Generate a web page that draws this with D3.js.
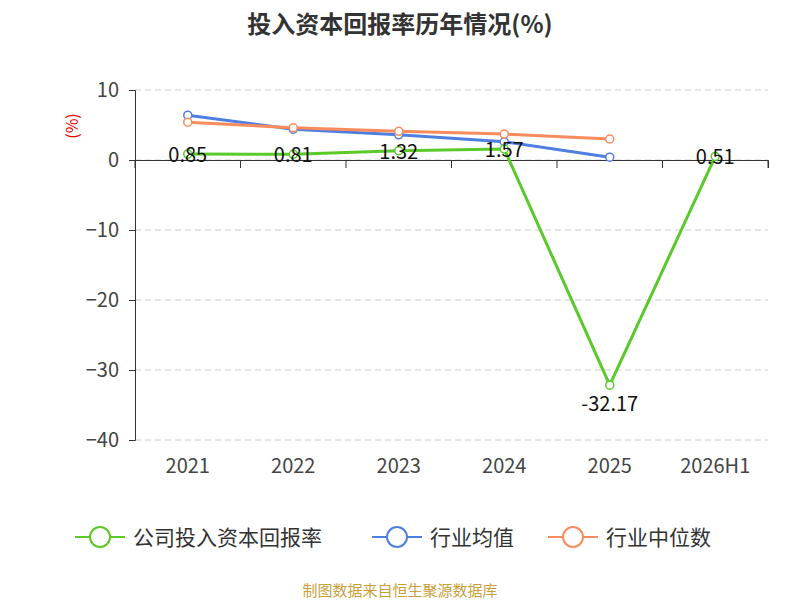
<!DOCTYPE html>
<html>
<head>
<meta charset="utf-8">
<style>
  body { margin: 0; background: #fff; }
  text { font-family: "Noto Sans CJK SC", "Noto Sans", sans-serif; }
</style>
</head>
<body>
<svg width="800" height="600"></svg>
<script src="https://d3js.org/d3.v7.min.js"></script>
<script>
var years = ["2021", "2022", "2023", "2024", "2025", "2026H1"];
var company = [0.85, 0.81, 1.32, 1.57, -32.17, 0.51];
var industryMean = [6.4, 4.4, 3.6, 2.6, 0.4];
var industryMedian = [5.4, 4.6, 4.1, 3.7, 3.0];
var yTicks = [10, 0, -10, -20, -30, -40];

var svg = d3.select("svg");
var plotLeft = 135, plotRight = 768, plotTop = 90, plotBottom = 440;

var x = d3.scaleBand().domain(years).range([plotLeft, plotRight]);
var y = d3.scaleLinear().domain([-40, 10]).range([plotBottom, plotTop]);

svg.append("text").attr("x", 400).attr("y", 33).attr("text-anchor", "middle")
  .attr("font-size", 24).attr("font-weight", "bold").attr("fill", "#333")
  .text("投入资本回报率历年情况(%)");

// grid
svg.selectAll(".grid").data(yTicks).enter().append("line")
  .attr("x1", plotLeft).attr("x2", plotRight)
  .attr("y1", function(d) { return y(d); }).attr("y2", function(d) { return y(d); })
  .attr("stroke", "#ccc").attr("stroke-dasharray", "6,4");

// y axis
var ya = svg.append("g").attr("transform", "translate(" + plotLeft + ",0)")
  .call(d3.axisLeft(y).tickValues(yTicks).tickSize(6).tickPadding(10));
ya.select(".domain").attr("stroke", "#333");
ya.selectAll(".tick line").attr("stroke", "#333");
ya.selectAll("text").attr("font-size", 20).attr("fill", "#444");

svg.append("text").attr("transform", "translate(78,126) rotate(-90)")
  .attr("text-anchor", "middle").attr("font-size", 16).attr("fill", "#e00").text("(%)");

// x axis at 0
var xa = svg.append("g").attr("transform", "translate(0," + y(0) + ")")
  .call(d3.axisBottom(x).tickSize(8).tickFormat(""));
xa.select(".domain").attr("stroke", "#333");
xa.selectAll(".tick line").attr("transform", "translate(" + (-x.bandwidth() / 2) + ",0)").attr("stroke", "#333");
svg.append("line").attr("x1", plotRight).attr("x2", plotRight).attr("y1", y(0)).attr("y2", y(0) + 8).attr("stroke", "#333");

svg.selectAll(".xl").data(years).enter().append("text")
  .attr("x", function(d) { return x(d) + x.bandwidth() / 2; }).attr("y", 473)
  .attr("text-anchor", "middle").attr("font-size", 20).attr("fill", "#444")
  .text(function(d) { return d; });

var cx = function(d, i) { return x(years[i]) + x.bandwidth() / 2; };
var line = d3.line().x(cx).y(function(d) { return y(d); });

function series(data, color) {
  svg.append("path").datum(data).attr("d", line).attr("fill", "none")
    .attr("stroke", color).attr("stroke-width", 3);
  svg.selectAll(null).data(data).enter().append("circle")
    .attr("cx", cx).attr("cy", function(d) { return y(d); }).attr("r", 4)
    .attr("fill", "#fff").attr("stroke", color).attr("stroke-width", 1.5);
}
series(industryMean, "#4e7fe0");
series(industryMedian, "#f98b5c");
series(company, "#5ac92a");

svg.selectAll(".vl").data(company).enter().append("text")
  .attr("x", cx).attr("y", function(d) { return y(d) + (d < 0 ? 26 : 8); })
  .attr("text-anchor", "middle").attr("font-size", 20).attr("fill", "#111")
  .text(function(d) { return d; });

// legend
var legend = [["公司投入资本回报率", "#5ac92a", 75], ["行业均值", "#4e7fe0", 372], ["行业中位数", "#f98b5c", 548]];
legend.forEach(function(l) {
  var g = svg.append("g").attr("transform", "translate(" + l[2] + ",537)");
  g.append("line").attr("x1", 0).attr("x2", 50).attr("stroke", l[1]).attr("stroke-width", 2);
  g.append("circle").attr("cx", 25).attr("r", 10).attr("fill", "#fff").attr("stroke", l[1]).attr("stroke-width", 2);
  g.append("text").attr("x", 58).attr("y", 8).attr("font-size", 21).attr("fill", "#333").text(l[0]);
});

svg.append("text").attr("x", 400).attr("y", 596).attr("text-anchor", "middle")
  .attr("font-size", 15).attr("fill", "#c9a03c").text("制图数据来自恒生聚源数据库");
</script>
</body>
</html>
